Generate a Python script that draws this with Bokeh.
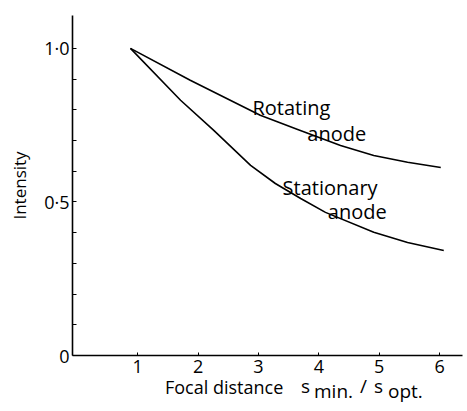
from bokeh.plotting import figure
from bokeh.models import FixedTicker, Label, Range1d, Div
from bokeh.layouts import column
from bokeh.embed import file_html
from bokeh.resources import INLINE

# data
rot_x = [0.88, 1.87, 3.03, 3.65, 4.36, 4.91, 5.47, 6.02]
rot_y = [1.0, 0.896, 0.782, 0.736, 0.684, 0.651, 0.629, 0.612]
sta_x = [0.88, 1.71, 2.26, 2.87, 3.28, 3.70, 4.11, 4.91, 5.47, 6.07]
sta_y = [1.0, 0.831, 0.733, 0.619, 0.560, 0.511, 0.466, 0.401, 0.368, 0.342]
x_ticks = [1, 2, 3, 4, 5, 6]
y_ticks = [0, 0.5, 1.0]
y_tick_labels = ["0", "0·5", "1·0"]
y_minor = [0.1, 0.2, 0.3, 0.4, 0.6, 0.7, 0.8, 0.9]

FONT = "Open Sans"
W = 463
H = 378
LEFT = 72
BOTTOM = 355

p = figure(width=W, height=H, output_backend="svg", toolbar_location=None,
           x_range=Range1d(-0.08, 6.38), y_range=Range1d(0, 1.107),
           min_border_left=LEFT, min_border_right=1, min_border_top=15,
           min_border_bottom=H - BOTTOM)
p.outline_line_color = None
p.xgrid.visible = False
p.ygrid.visible = False
p.background_fill_color = "white"

p.line(rot_x, rot_y, line_color="black", line_width=1.6)
p.line(sta_x, sta_y, line_color="black", line_width=1.6)

xa = p.xaxis[0]
xa.ticker = FixedTicker(ticks=x_ticks)
xa.major_tick_in = 3
xa.major_tick_out = 0
xa.minor_tick_line_color = None
xa.axis_line_width = 1.6
xa.axis_line_color = "black"
xa.major_label_text_font = FONT
xa.major_label_text_font_size = "18px"
xa.major_label_text_color = "black"
xa.major_label_standoff = 4

ya = p.yaxis[0]
ya.ticker = FixedTicker(ticks=y_ticks, minor_ticks=y_minor)
ya.major_label_overrides = {t: l for t, l in zip(y_ticks, y_tick_labels)}
ya.major_tick_in = 4
ya.major_tick_out = 0
ya.minor_tick_in = 4
ya.minor_tick_out = 0
ya.axis_line_width = 1.6
ya.axis_line_color = "black"
ya.major_label_text_font = FONT
ya.major_label_text_font_size = "18px"
ya.major_label_text_color = "black"
ya.major_label_standoff = 3
ya.axis_label = "Intensity"
ya.axis_label_text_font = FONT
ya.axis_label_text_font_style = "normal"
ya.axis_label_text_font_size = "17px"
ya.axis_label_text_color = "black"
ya.axis_label_standoff = 10

def lab(x, y, t, size="20px"):
    p.add_layout(Label(x=x, y=y, text=t, text_font=FONT, text_font_size=size,
                       text_color="black", text_align="left", text_baseline="alphabetic"))

lab(2.90, 0.808, "Rotating")
lab(3.81, 0.723, "anode")
lab(3.40, 0.547, "Stationary")
lab(4.15, 0.469, "anode")

# x-axis title with subscripts, as HTML text below the figure
pieces = [  # (left px, baseline px on page, text, font px)
    (165, 393, "Focal distance", 18),
    (301, 393, "s", 19),
    (314, 398, "min.", 19),
    (360, 393, "/", 19),
    (374, 393, "s", 19),
    (388, 398, "opt.", 19),
]
spans = ""
for left, base, txt, fs in pieces:
    top = base - H - round(0.86 * fs)
    spans += (f'<span style="position:absolute;left:{left}px;top:{top}px;'
              f'font-size:{fs}px;line-height:{fs}px;white-space:nowrap">{txt}</span>')
html = (f'<div style="position:relative;width:{W}px;height:30px;'
        f"font-family:'Open Sans';color:black;\">{spans}</div>")
div = Div(text=html, width=W, height=30, margin=0)

layout = column(p, div, spacing=0)
open("out.html", "w").write(file_html(layout, INLINE))
